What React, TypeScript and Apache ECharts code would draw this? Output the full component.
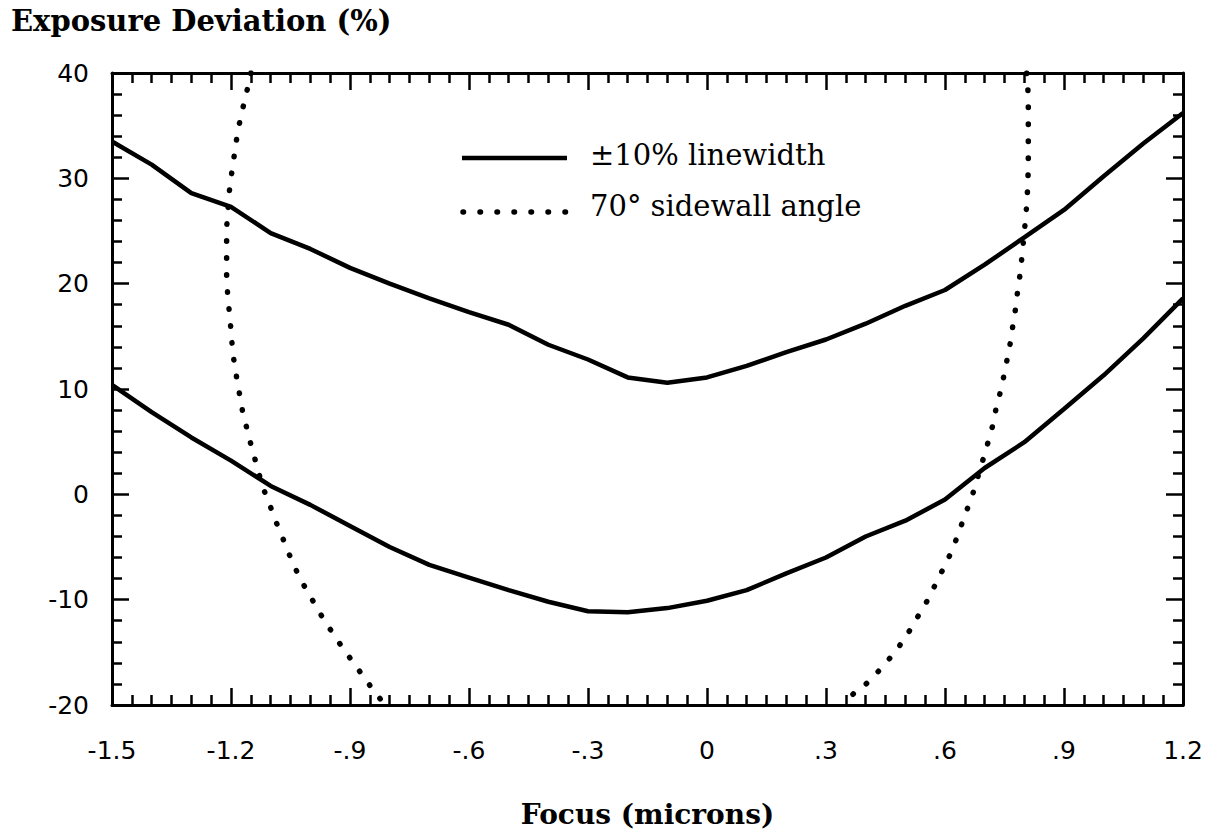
import React, { useEffect, useRef } from "react";
import * as echarts from "echarts";

// Focus positions (microns) at which the linewidth limits were evaluated
const focus = [
  -1.5, -1.4, -1.3, -1.2, -1.1, -1.0, -0.9, -0.8, -0.7, -0.6, -0.5, -0.4, -0.3, -0.2,
  -0.1, 0.0, 0.1, 0.2, 0.3, 0.4, 0.5, 0.6, 0.7, 0.8, 0.9, 1.0, 1.1, 1.2,
];

// Exposure deviation (%) giving -10% and +10% linewidth
const upperLimit = [
  33.5, 31.3, 28.6, 27.3, 24.8, 23.3, 21.5, 20.0, 18.6, 17.3, 16.1, 14.2, 12.8, 11.1,
  10.6, 11.1, 12.2, 13.5, 14.7, 16.2, 17.9, 19.4, 21.8, 24.4, 27.0, 30.2, 33.3, 36.2,
];
const lowerLimit = [
  10.4, 7.8, 5.4, 3.2, 0.8, -1.0, -3.0, -5.0, -6.7, -7.9, -9.1, -10.2, -11.1, -11.2,
  -10.8, -10.1, -9.1, -7.5, -6.0, -4.0, -2.5, -0.5, 2.5, 4.95, 8.1, 11.3, 14.8, 18.6,
];

// 70 degree sidewall angle contour, negative-focus branch (top to bottom)
const sidewallLeftFocus = [
  -1.15, -1.156, -1.165, -1.173, -1.182, -1.188, -1.194, -1.2, -1.205, -1.208, -1.211,
  -1.211, -1.211, -1.208, -1.204, -1.2, -1.197, -1.192, -1.185, -1.178, -1.171, -1.161,
  -1.151, -1.14, -1.13, -1.118, -1.104, -1.089, -1.074, -1.059, -1.044, -1.026, -1.006,
  -0.986, -0.966, -0.943, -0.92, -0.895, -0.87, -0.845, -0.82, -0.81,
];
const sidewallLeftExposure = [
  40, 38.9, 37.5, 36.2, 34.65, 33.2, 31.6, 30.05, 28.5, 26.9, 25.3,
  22.1, 20.4, 18.8, 17.2, 15.6, 14.1, 12.5, 10.9, 9.4, 7.9, 6.4,
  4.9, 3.4, 2.0, 0.5, -0.8, -2.4, -3.7, -5.2, -6.5, -8.0, -9.3,
  -10.6, -11.9, -13.2, -14.5, -15.8, -17.1, -18.4, -19.6, -20,
];

// 70 degree sidewall angle contour, positive-focus branch (top to bottom)
const sidewallRightFocus = [
  0.806, 0.808, 0.81, 0.81, 0.81, 0.809, 0.807, 0.804, 0.8, 0.796, 0.792, 0.787, 0.781,
  0.776, 0.769, 0.763, 0.755, 0.747, 0.738, 0.728, 0.72, 0.709, 0.698, 0.686, 0.676,
  0.663, 0.649, 0.635, 0.621, 0.606, 0.587, 0.57, 0.551, 0.53, 0.509, 0.485, 0.46,
  0.432, 0.401, 0.371, 0.345,
];
const sidewallRightExposure = [
  40, 39.2, 37.6, 34.5, 31.3, 29.7, 28.1, 26.5, 24.9, 23.35, 21.8, 20.25, 18.7,
  17.1, 15.55, 14.0, 12.5, 11.0, 9.5, 8.0, 6.5, 5.0, 3.56, 2.1, 0.7,
  -0.7, -2.1, -3.6, -5.0, -6.3, -7.7, -9.0, -10.4, -11.7, -13.05, -14.4, -15.6,
  -16.8, -18.0, -18.85, -20,
];

// Axis tick labels
const focusTickValues = [-1.5, -1.2, -0.9, -0.6, -0.3, 0, 0.3, 0.6, 0.9, 1.2];
const focusTickLabels = ["-1.5", "-1.2", "-.9", "-.6", "-.3", "0", ".3", ".6", ".9", "1.2"];
const exposureTickLabels = ["-20", "-10", "0", "10", "20", "30", "40"];

const LINEWIDTH_NAME = "\u00B110% linewidth";
const SIDEWALL_NAME = "70\u00B0 sidewall angle";

const pair = (xs: number[], ys: number[]) => xs.map((x, i) => [x, ys[i]]);

const focusLabel = (v: number) => {
  const i = focusTickValues.findIndex((t) => Math.abs(t - v) < 1e-6);
  return i >= 0 ? focusTickLabels[i] : "";
};
const exposureLabel = (v: number) => {
  const s = String(Math.round(v));
  return exposureTickLabels.includes(s) ? s : "";
};

const TICK_FONT = "DejaVu Sans";
const SERIF = "DejaVu Serif";

const SOLID_WIDTH = 4.5;
const DOT_WIDTH = 5.5;
const DOT_DASH = [0.5, 16.5];

export default function App() {
  const ref = useRef<HTMLDivElement>(null);

  useEffect(() => {
    if (!ref.current) return;
    const chart = echarts.init(ref.current, null, { renderer: "svg" });

    const axisLine = { show: true, onZero: false, lineStyle: { color: "#000", width: 3 } };
    const majorTick = { show: true, inside: true, length: 17, lineStyle: { color: "#000", width: 2.5 } };
    const minorTickX = { show: true, splitNumber: 6, length: 10, lineStyle: { color: "#000", width: 2.5 } };
    const minorTickY = { show: true, splitNumber: 5, length: 10, lineStyle: { color: "#000", width: 2.5 } };

    const xBase = { type: "value", min: -1.5, max: 1.2, interval: 0.3, axisLine, axisTick: majorTick, minorTick: minorTickX, splitLine: { show: false }, minorSplitLine: { show: false } };
    const yBase = { type: "value", min: -20, max: 40, interval: 10, axisLine, axisTick: majorTick, minorTick: minorTickY, splitLine: { show: false }, minorSplitLine: { show: false } };

    const solid = { color: "#000", width: SOLID_WIDTH };
    const dotted = { color: "#000", width: DOT_WIDTH, type: DOT_DASH, cap: "round" };

    const legendFont = `29px '${SERIF}', serif`;

    chart.setOption({
      animation: false,
      backgroundColor: "#fff",
      title: {
        text: "Exposure Deviation (%)",
        left: 6,
        top: 1,
        textStyle: { fontFamily: SERIF, fontWeight: "bold", fontSize: 29, color: "#000" },
      },
      graphic: [
        {
          type: "line",
          shape: { x1: 462, y1: 158, x2: 567, y2: 158 },
          style: { stroke: "#000", lineWidth: SOLID_WIDTH },
        },
        {
          type: "text",
          x: 590,
          y: 155,
          style: { text: LINEWIDTH_NAME, font: legendFont, fontFamily: SERIF, fontSize: 29, fill: "#000", verticalAlign: "middle" },
        },
        {
          type: "line",
          shape: { x1: 463, y1: 212, x2: 570, y2: 212 },
          style: { stroke: "#000", lineWidth: DOT_WIDTH, lineDash: DOT_DASH, lineCap: "round" },
        },
        {
          type: "text",
          x: 590,
          y: 206,
          style: { text: SIDEWALL_NAME, font: legendFont, fontFamily: SERIF, fontSize: 29, fill: "#000", verticalAlign: "middle" },
        },
      ],
      grid: { left: 112, top: 73, right: 27, bottom: 131 },
      xAxis: [
        {
          ...xBase,
          position: "bottom",
          name: "Focus (microns)",
          nameLocation: "middle",
          nameGap: 95,
          nameTextStyle: { fontFamily: SERIF, fontWeight: "bold", fontSize: 28, color: "#000" },
          axisLabel: { show: true, margin: 33, fontFamily: TICK_FONT, fontSize: 25, color: "#000", formatter: focusLabel },
        },
        { ...xBase, position: "top", axisLabel: { show: false } },
      ],
      yAxis: [
        {
          ...yBase,
          position: "left",
          axisLabel: { show: true, margin: 23, fontFamily: TICK_FONT, fontSize: 25, color: "#000", formatter: exposureLabel },
        },
        { ...yBase, position: "right", axisLabel: { show: false } },
      ],
      series: [
        {
          name: LINEWIDTH_NAME,
          type: "line",
          data: pair(focus, upperLimit),
          symbol: "none",
          lineStyle: solid,
        },
        {
          name: LINEWIDTH_NAME,
          type: "line",
          data: pair(focus, lowerLimit),
          symbol: "none",
          lineStyle: solid,
        },
        {
          name: SIDEWALL_NAME,
          type: "line",
          data: pair(sidewallLeftFocus, sidewallLeftExposure),
          symbol: "none",
          lineStyle: dotted,
        },
        {
          name: SIDEWALL_NAME,
          type: "line",
          data: pair(sidewallRightFocus, sidewallRightExposure),
          symbol: "none",
          lineStyle: dotted,
        },
      ],
    });

    return () => chart.dispose();
  }, []);

  return (
    <div
      ref={ref}
      style={{ position: "absolute", left: 0, top: 0, width: 1210, height: 836, background: "#fff" }}
    />
  );
}
